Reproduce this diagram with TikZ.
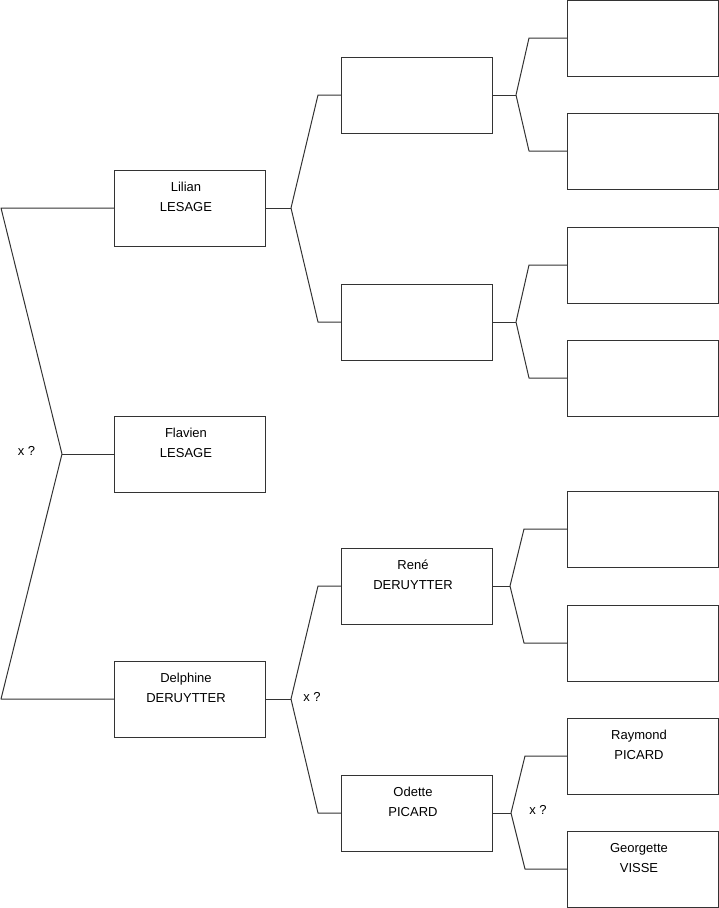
\documentclass[tikz,border=0pt]{standalone}
\usepackage{fontspec}
\setmainfont{Liberation Sans}
\begin{document}
\begin{tikzpicture}[x=1pt,y=-1pt,
  box/.style={draw=black!80, line width=1pt, minimum width=151pt, minimum height=76pt, anchor=north west, inner sep=0pt, outer sep=0pt},
  nametext/.style={anchor=north, align=center, inner sep=0pt, font=\fontsize{13}{20}\selectfont, yshift=-12pt, xshift=-3.5pt},
  lbl/.style={inner sep=0pt, font=\fontsize{13}{15}\selectfont},
  link/.style={draw=black!80, line width=1pt, line join=round}]
\useasboundingbox (0,0) rectangle (719,908);
% column 1
\node[box] (lilian) at (114,170) {};
\node[box] (flavien) at (114,416) {};
\node[box] (delphine) at (114,661) {};
% column 2
\node[box] (b2a) at (341,57) {};
\node[box] (b2b) at (341,284) {};
\node[box] (rene) at (341,548) {};
\node[box] (odette) at (341,775) {};
% column 3
\node[box] (b3a) at (567,0) {};
\node[box] (b3b) at (567,113) {};
\node[box] (b3c) at (567,227) {};
\node[box] (b3d) at (567,340) {};
\node[box] (b3e) at (567,491) {};
\node[box] (b3f) at (567,605) {};
\node[box] (raymond) at (567,718) {};
\node[box] (georgette) at (567,831) {};
% names
\node[nametext] (tlilian) at (lilian.north) {Lilian\\LESAGE};
\node[nametext] (tflavien) at (flavien.north) {Flavien\\LESAGE};
\node[nametext] (tdelphine) at (delphine.north) {Delphine\\DERUYTTER};
\node[nametext] (trene) at (rene.north) {René\\DERUYTTER};
\node[nametext] (todette) at (odette.north) {Odette\\PICARD};
\node[nametext] (traymond) at (raymond.north) {Raymond\\PICARD};
\node[nametext] (tgeorgette) at (georgette.north) {Georgette\\VISSE};
% junction coordinates
\coordinate (j1) at (62,454); \coordinate (j1a) at (1,208); \coordinate (j1b) at (1,699);
\coordinate (j2) at (291,208); \coordinate (j2a) at (318,95); \coordinate (j2b) at (318,322);
\coordinate (j3) at (291,699); \coordinate (j3a) at (318,586); \coordinate (j3b) at (318,813);
\coordinate (j4) at (516,95); \coordinate (j4a) at (529,38); \coordinate (j4b) at (529,151);
\coordinate (j5) at (516,322); \coordinate (j5a) at (529,265); \coordinate (j5b) at (529,378);
\coordinate (j6) at (510,586); \coordinate (j6a) at (524,529); \coordinate (j6b) at (524,643);
\coordinate (j7) at (511,813); \coordinate (j7a) at (525,756); \coordinate (j7b) at (525,869);
% connectors
\draw[link] (flavien.west) -- (j1);
\draw[link] (lilian.west) -- (j1a) -- (j1) -- (j1b) -- (delphine.west);
\draw[link] (lilian.east) -- (j2);
\draw[link] (b2a.west) -- (j2a) -- (j2) -- (j2b) -- (b2b.west);
\draw[link] (delphine.east) -- (j3);
\draw[link] (rene.west) -- (j3a) -- (j3) -- (j3b) -- (odette.west);
\draw[link] (b2a.east) -- (j4);
\draw[link] (b3a.west) -- (j4a) -- (j4) -- (j4b) -- (b3b.west);
\draw[link] (b2b.east) -- (j5);
\draw[link] (b3c.west) -- (j5a) -- (j5) -- (j5b) -- (b3d.west);
\draw[link] (rene.east) -- (j6);
\draw[link] (b3e.west) -- (j6a) -- (j6) -- (j6b) -- (b3f.west);
\draw[link] (odette.east) -- (j7);
\draw[link] (raymond.west) -- (j7a) -- (j7) -- (j7b) -- (georgette.west);
% x ? labels
\node[lbl] (x1) at (26.5,451.3) {x ?};
\node[lbl] (x2) at (312,697.3) {x ?};
\node[lbl] (x3) at (538,810.3) {x ?};
\end{tikzpicture}
\end{document}
